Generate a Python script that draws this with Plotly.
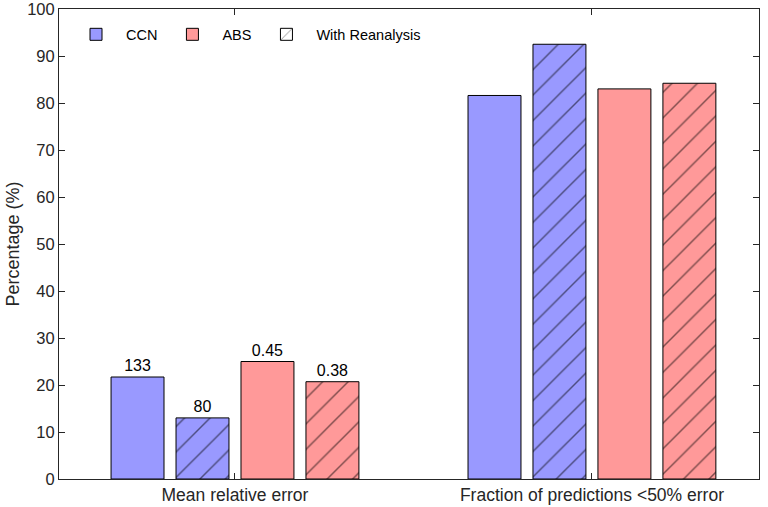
import plotly.graph_objects as go

# --- data ---
categories = ["Mean relative error", "Fraction of predictions <50% error"]
ccn = [21.7, 81.6]
ccn_rean = [13.0, 92.5]
abs_vals = [25.0, 83.0]
abs_rean = [20.7, 84.2]
ccn_labels = ["133", ""]
ccn_rean_labels = ["80", ""]
abs_labels = ["0.45", ""]
abs_rean_labels = ["0.38", ""]

blue = "#9999FF"
red = "#FF9999"
axcol = "#262626"
font = "Liberation Sans, Arial, sans-serif"

fig = go.Figure()

# bars (legend handled by dummy traces below)
series = [
    (ccn, ccn_labels, blue, "", "g1"),
    (ccn_rean, ccn_rean_labels, blue, "/", "g2"),
    (abs_vals, abs_labels, red, "", "g3"),
    (abs_rean, abs_rean_labels, red, "/", "g4"),
]
for vals, labels, color, hatch, grp in series:
    fig.add_trace(go.Bar(
        x=categories,
        y=vals,
        offsetgroup=grp,
        text=labels,
        textposition="outside",
        cliponaxis=False,
        textfont=dict(size=16, color="black", family=font),
        marker=dict(
            color=color,
            line=dict(color="black", width=1),
            pattern=dict(shape=hatch, fgcolor="black", bgcolor=color,
                         size=18, solidity=0.08),
        ),
        showlegend=False,
        hoverinfo="y",
    ))

# legend entries (share offset groups so they take no extra slot)
fig.add_trace(go.Bar(x=[categories[0]], y=[None], name="CCN", offsetgroup="g1",
                     marker=dict(color=blue, line=dict(color="black", width=1))))
fig.add_trace(go.Bar(x=[categories[0]], y=[None], name="ABS", offsetgroup="g3",
                     marker=dict(color=red, line=dict(color="black", width=1))))
fig.add_trace(go.Bar(x=[categories[0]], y=[None], name="With Reanalysis",
                     offsetgroup="g2",
                     marker=dict(color="white", line=dict(color="black", width=1),
                                 pattern=dict(shape="/", fgcolor="black",
                                              bgcolor="white", size=14,
                                              solidity=0.1))))

fig.update_layout(
    width=768, height=507,
    barmode="group",
    bargap=0.272,
    bargroupgap=0.185,
    plot_bgcolor="white",
    paper_bgcolor="white",
    margin=dict(l=59, r=9, t=9, b=28),
    font=dict(family=font, size=16, color=axcol),
    legend=dict(orientation="h", x=0.01, y=0.98, xanchor="left", yanchor="top",
                bgcolor="rgba(0,0,0,0)", font=dict(size=14.5, color="black"),
                traceorder="normal", itemwidth=50),
    xaxis=dict(
        range=[-0.493, 1.468],
        automargin=False,
        showline=True, linecolor=axcol, linewidth=1, mirror="ticks",
        ticks="inside", ticklen=6, tickcolor=axcol,
        showgrid=False,
        tickfont=dict(size=17.5, color=axcol),
    ),
    yaxis=dict(
        range=[0, 100],
        dtick=10,
        automargin=False,
        ticklabeloverflow="allow",
        showline=True, linecolor=axcol, linewidth=1, mirror="ticks",
        ticks="inside", ticklen=6, tickcolor=axcol,
        showgrid=False, zeroline=False,
        tickfont=dict(size=16.5, color=axcol),
        title=dict(text="Percentage (%)", font=dict(size=18, color=axcol),
                   standoff=2),
    ),
)

# drop the default page margin so the figure sits at the window's corner
fig.write_html("out.html", config={"displayModeBar": False},
               post_script="document.body.style.margin='0';")
